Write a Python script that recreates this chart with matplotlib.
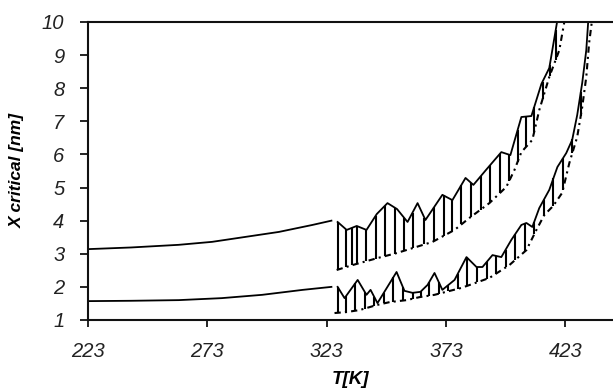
import numpy as np
import matplotlib
matplotlib.use("Agg")
import matplotlib.pyplot as plt

# curvas continuas (T < 325 K)
T_sup_cont = [223, 241, 261, 275, 289, 303, 317, 325]
X_sup_cont = [3.14, 3.19, 3.27, 3.36, 3.51, 3.66, 3.87, 4.00]
T_inf_cont = [223, 241, 261, 279, 296, 313, 325]
X_inf_cont = [1.57, 1.58, 1.60, 1.66, 1.76, 1.91, 2.00]

# curva oscilante superior
T_sup_osc = [327.6, 331.4, 335.6, 339.7, 344.0, 348.5, 352.5, 356.9, 361.1, 364.4,
             371.5, 375.7, 381.2, 384.5, 390.0, 396.2, 400.0, 404.6, 408.8, 413.0,
             416.3, 419.7]
X_sup_osc = [3.96, 3.72, 3.84, 3.72, 4.20, 4.53, 4.35, 3.96, 4.53, 4.02,
             4.78, 4.62, 5.29, 5.08, 5.55, 6.07, 5.98, 7.13, 7.16, 8.13,
             8.61, 10.06]

# envolvente inferior (punto-raya) de la serie superior
T_sup_env = [327.2, 333.9, 344.3, 352.3, 359.0, 367.4, 376.6, 382.8, 391.2, 398.3,
             401.7, 404.6, 409.2, 412.1, 416.3, 420.5, 422.6]
X_sup_env = [2.51, 2.66, 2.87, 3.02, 3.17, 3.36, 3.72, 4.08, 4.53, 5.02,
             5.53, 6.07, 6.44, 7.34, 8.34, 9.15, 10.0]

# curva oscilante inferior
T_inf_osc = [327.6, 330.5, 336.0, 339.7, 341.4, 344.3, 352.3, 355.6, 359.0, 362.3,
             365.3, 368.2, 371.5, 376.6, 381.6, 385.8, 388.3, 392.5, 396.2, 400.4,
             404.6, 406.7, 409.2, 412.1, 416.3, 419.7, 423.4, 425.9, 428.0, 430.1,
             431.8, 432.6]
X_inf_osc = [2.00, 1.66, 2.21, 1.76, 1.91, 1.51, 2.45, 1.88, 1.82, 1.85,
             2.06, 2.42, 1.91, 2.21, 2.90, 2.60, 2.60, 2.96, 2.90, 3.42,
             3.87, 3.93, 3.81, 4.38, 4.93, 5.62, 6.04, 6.44, 7.19, 8.16,
             9.15, 10.0]

T_inf_env = [326.3, 331.4, 336.8, 343.9, 349.4, 356.5, 361.9, 368.2, 379.5, 391.2,
             399.6, 406.7, 410.9, 414.2, 418.0, 421.7, 424.7, 428.0, 430.1, 431.8,
             433.0, 434.3]
X_inf_env = [1.21, 1.24, 1.30, 1.45, 1.54, 1.60, 1.69, 1.76, 1.97, 2.27,
             2.66, 3.11, 3.72, 4.17, 4.45, 4.84, 5.74, 6.53, 7.43, 8.34,
             9.37, 10.1]

# posiciones de las barras verticales
T_barras_sup = [327.6, 331.0, 333.5, 335.6, 339.5, 343.5, 347.5, 351.5, 355.5, 359.0,
                364.0, 368.0, 372.0, 375.5, 379.5, 383.5, 387.5, 391.5, 395.5, 399.5,
                403.0, 406.5, 410.0, 413.5, 416.5, 419.0]
T_barras_inf = [327.6, 331.0, 335.0, 339.0, 343.0, 347.0, 351.0, 355.0, 359.0, 362.5,
                366.0, 370.0, 374.0, 378.0, 382.0, 386.0, 390.0, 394.0, 398.0, 402.0,
                406.0, 410.0, 414.0, 418.0, 422.0, 426.0, 429.5]

xticks = [223, 273, 323, 373, 423]
yticks = [1, 2, 3, 4, 5, 6, 7, 8, 9, 10]

plt.rcParams['font.family'] = ['Liberation Sans', 'DejaVu Sans']

fig = plt.figure(figsize=(6.13, 3.92), dpi=100)
ax = fig.add_axes([0.1436, 0.1837, 0.8564, 0.7602])

lw = 1.3
ax.plot(T_sup_cont, X_sup_cont, color="black", lw=lw)
ax.plot(T_inf_cont, X_inf_cont, color="black", lw=lw)
ax.plot(T_sup_osc, X_sup_osc, color="black", lw=lw)
ax.plot(T_inf_osc, X_inf_osc, color="black", lw=lw)
ax.plot(T_sup_env, X_sup_env, color="black", lw=1.5, linestyle=(0, (3, 2, 1, 2)))
ax.plot(T_inf_env, X_inf_env, color="black", lw=1.5, linestyle=(0, (3, 2, 1, 2)))

# barras verticales entre envolvente y curva
for Tb, Tc, Xc, Te, Xe in [(T_barras_sup, T_sup_osc, X_sup_osc, T_sup_env, X_sup_env),
                           (T_barras_inf, T_inf_osc, X_inf_osc, T_inf_env, X_inf_env)]:
    Tb = np.array(Tb)
    arriba = np.interp(Tb, Tc, Xc)
    abajo = np.interp(Tb, Te, Xe)
    ok = arriba > abajo
    ax.vlines(Tb[ok], abajo[ok], arriba[ok], color="black", lw=1.5)

ax.set_xlim(223, 443)
ax.set_ylim(1, 10)
ax.set_xticks(xticks)
ax.set_yticks(yticks)
for lab in ax.get_xticklabels() + ax.get_yticklabels():
    lab.set_fontstyle("italic")
    lab.set_fontsize(14.5)
    lab.set_color("#222222")
ax.tick_params(axis="y", direction="out", length=6, width=1.2, pad=11)
ax.tick_params(axis="x", direction="out", length=5, width=1.2, pad=11)

ax.spines["right"].set_visible(False)
for s in ["left", "bottom", "top"]:
    ax.spines[s].set_linewidth(1.5)
    ax.spines[s].set_color("#111111")

ax.set_xlabel("T[K]", fontsize=13.5, fontweight="bold", fontstyle="italic", labelpad=7)
ax.set_ylabel("X critical [nm]", fontsize=12.5, fontweight="bold", fontstyle="italic", labelpad=12)

fig.savefig("out.png", dpi=100)
